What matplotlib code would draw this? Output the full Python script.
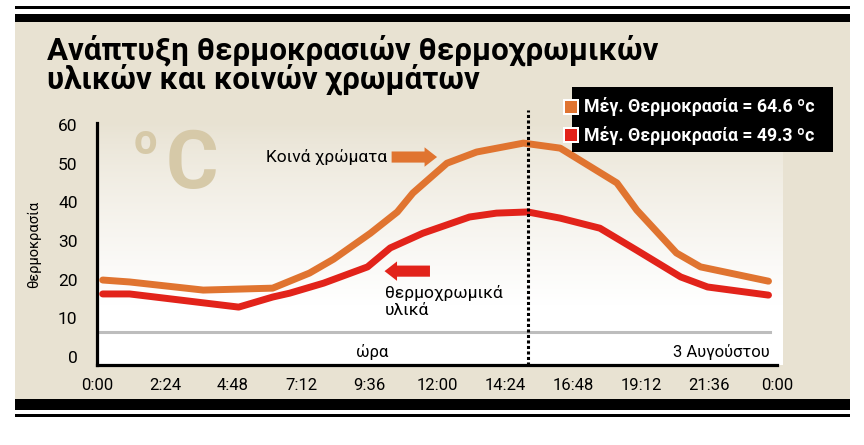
import matplotlib.pyplot as plt
import numpy as np
from matplotlib.patches import Rectangle

plt.rcParams["font.family"] = ["Roboto", "DejaVu Sans"]

# ── Colours ───────────────────────────────────────────────────────────────────
ORANGE = "#E07430"
RED = "#E2231A"
BEIGE = "#E8E2D2"
DEG_COLOR = "#D6C9A8"

# ── Data ──────────────────────────────────────────────────────────────────────
hours_common = [0.2, 1.15, 3.75, 6.2, 7.5, 8.35, 9.65, 10.6, 11.15, 12.35,
                13.4, 15.05, 16.35, 18.35, 19.05, 20.45, 21.3, 23.7]
temp_common = [19.9, 19.4, 17.3, 17.8, 21.7, 25.3, 32.0, 37.5, 42.4, 50.1,
               53.0, 55.3, 54.0, 45.0, 38.0, 26.9, 23.3, 19.6]

hours_thermo = [0.2, 1.15, 5.0, 6.2, 6.8, 8.0, 9.55, 10.35, 11.5, 13.15,
                14.1, 15.2, 16.35, 17.75, 19.05, 20.6, 21.55, 23.7]
temp_thermo = [16.3, 16.3, 12.9, 15.5, 16.5, 19.1, 23.3, 28.2, 32.0, 36.2,
               37.2, 37.5, 35.9, 33.3, 27.6, 20.7, 18.1, 16.0]

xtick_pos = [0, 2.4, 4.8, 7.2, 9.6, 12, 14.4, 16.8, 19.2, 21.6, 24]
xtick_labels = ["0:00", "2:24", "4:48", "7:12", "9:36", "12:00", "14:24",
                "16:48", "19:12", "21:36", "0:00"]
yticks = [0, 10, 20, 30, 40, 50, 60]

max_common = 64.6
max_thermo = 49.3
noon_mark = 15.2   # dotted divider
base_line = 6.5    # grey reference line

# ── Figure and frame ─────────────────────────────────────────────────────────
W, H = 864, 445
fig = plt.figure(figsize=(W / 100, H / 100), dpi=100)
fig.patch.set_facecolor("white")


def fig_rect(x0, y0, x1, y1, color, z=0):
    """Rectangle given in pixel coords (origin top-left)."""
    fig.patches.append(Rectangle((x0 / W, 1 - y1 / H), (x1 - x0) / W, (y1 - y0) / H,
                                 transform=fig.transFigure, color=color, zorder=z,
                                 linewidth=0))


fig_rect(15, 22, 850, 399, BEIGE, z=-10)
fig_rect(15, 6, 850, 8.5, "black", z=-10)
fig_rect(15, 14, 850, 22, "black", z=-10)
fig_rect(15, 399, 850, 410, "black", z=-10)
fig_rect(15, 414, 850, 417, "black", z=-10)

# plot area position (pixels)
ax_l, ax_r, ax_t, ax_b = 97, 777, 123, 365
rect = [ax_l / W, 1 - ax_b / H, (ax_r - ax_l) / W, (ax_b - ax_t) / H]

# gradient background behind the plot
bg = fig.add_axes([ax_l / W, 1 - ax_b / H, (783 - ax_l) / W, (ax_b - ax_t) / H])
bg.set_zorder(-5)
bg.set_axis_off()
t = np.linspace(0, 1, 256)
w = np.clip(t / 0.75, 0, 1) ** 0.8
top = np.array([232, 226, 210]) / 255
grad = (top[None, :] * (1 - w[:, None]) + np.ones(3)[None, :] * w[:, None])
bg.imshow(grad[:, None, :], extent=[0, 1, 0, 1], aspect="auto")

ax = fig.add_axes(rect)
ax.set_facecolor("none")

ax.plot(hours_common, temp_common, color=ORANGE, linewidth=5,
        solid_capstyle="round", solid_joinstyle="round", zorder=3)
ax.plot(hours_thermo, temp_thermo, color=RED, linewidth=5,
        solid_capstyle="round", solid_joinstyle="round", zorder=3)

ax.axhline(base_line, xmax=0.99, color="#BDBDBD", linewidth=2.2, zorder=1)
ax.plot([noon_mark, noon_mark], [-2, 63.8], color="black", linewidth=2.2,
        linestyle=(0, (1, 0.8)), clip_on=False, zorder=4)

ax.set_xlim(0, 24)
ax.set_ylim(-2.07, 60.5)
ax.set_xticks(xtick_pos)
ax.set_xticklabels(xtick_labels, fontsize=12)
ax.set_yticks(yticks)
ax.set_yticklabels([str(v) for v in yticks], fontsize=12.5)
ax.tick_params(length=0)
ax.tick_params(axis="y", pad=14)
ax.tick_params(axis="x", pad=9)
ax.set_ylabel("θερμοκρασία", fontsize=10.5, labelpad=12)

for side in ["top", "right"]:
    ax.spines[side].set_visible(False)
ax.spines["left"].set_linewidth(2.3)
ax.spines["bottom"].set_linewidth(2.3)

# ── Annotations ──────────────────────────────────────────────────────────────
ax.text(10.25, 51.7, "Κοινά χρώματα", fontsize=12.5, ha="right", va="center")
ax.annotate("", xy=(12.1, 51.7), xytext=(10.3, 51.7),
            arrowprops=dict(arrowstyle="simple,head_width=1.4,head_length=0.9,tail_width=0.8",
                            color=ORANGE, linewidth=0))
ax.annotate("", xy=(10.05, 22.2), xytext=(11.85, 22.2),
            arrowprops=dict(arrowstyle="simple,head_width=1.4,head_length=0.9,tail_width=0.8",
                            color=RED, linewidth=0))
ax.text(10.15, 18.6, "θερμοχρωμικά\nυλικά", fontsize=12.5, ha="left", va="top",
        linespacing=1.15)
ax.text(9.7, 1.4, "ώρα", fontsize=12, ha="center", va="center")
ax.text(23.75, 1.4, "3 Αυγούστου", fontsize=12, ha="right", va="center")

# big degree sign
fig.text(145 / W, 1 - 143 / H, "o", fontsize=30, fontweight="bold",
         color=DEG_COLOR, ha="center", va="center")
fig.text(192 / W, 1 - 166 / H, "C", fontsize=58, fontweight="bold",
         color=DEG_COLOR, ha="center", va="center")

# ── Title ────────────────────────────────────────────────────────────────────
fig.text(47 / W, 1 - 50 / H, "Ανάπτυξη θερμοκρασιών θερμοχρωμικών",
         fontsize=22.5, fontweight="bold", ha="left", va="center")
fig.text(47 / W, 1 - 79 / H, "υλικών και κοινών χρωμάτων",
         fontsize=22.5, fontweight="bold", ha="left", va="center")

# ── Legend box ───────────────────────────────────────────────────────────────
fig_rect(572, 87, 833, 152, "black", z=5)
for yc, col, val in [(107, ORANGE, max_common), (135, RED, max_thermo)]:
    fig_rect(563, yc - 8, 579, yc + 8, "white", z=6)
    fig_rect(565, yc - 6, 577, yc + 6, col, z=7)
    fig.text(584 / W, 1 - yc / H, f"Μέγ. Θερμοκρασία = {val} ºc", color="white",
             fontsize=12.8, fontweight="bold", ha="left", va="center", zorder=8)

fig.savefig("out.png", dpi=100, facecolor="white")
